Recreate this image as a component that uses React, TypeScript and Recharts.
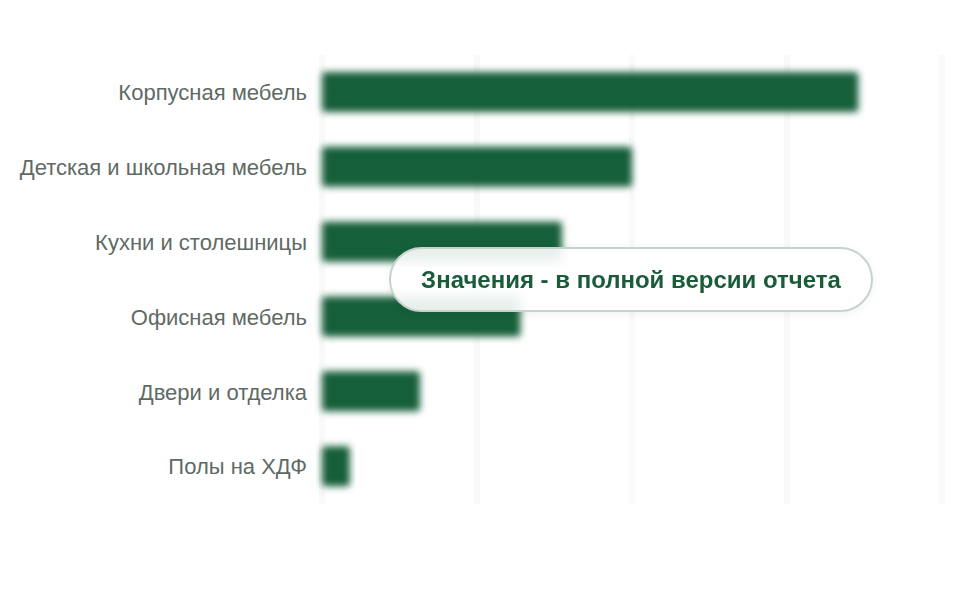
import { BarChart, Bar, XAxis, YAxis, CartesianGrid } from 'recharts';

const categories = [
  'Корпусная мебель',
  'Детская и школьная мебель',
  'Кухни и столешницы',
  'Офисная мебель',
  'Двери и отделка',
  'Полы на ХДФ',
];
const values = [86.5, 50, 38.7, 32, 15.8, 4.5];
const xTicks = [0, 25, 50, 75, 100];

const BAR_COLOR = '#175e3a';

const data = categories.map((name, i) => ({ name, value: values[i] }));

// blurred bar — the values are hidden in the preview version
const BlurBar = (props: any) => {
  const { x, y, width, height } = props;
  if (!width || width <= 0) return null;
  return <rect x={x} y={y} width={width} height={height} rx={3} fill={BAR_COLOR} filter="url(#barBlur)" />;
};

export default function App() {
  return (
    <div style={{ position: 'relative', width: 960, height: 600, background: '#fff', fontFamily: '"Liberation Sans", Arial, sans-serif' }}>
      <style>{'body{margin:0}'}</style>
      <BarChart
        width={960}
        height={600}
        data={data}
        layout="vertical"
        margin={{ top: 55, right: 18, bottom: 96, left: 0 }}
        barSize={40}
      >
        <defs>
          <filter id="barBlur" x="-20%" y="-40%" width="140%" height="180%">
            <feGaussianBlur stdDeviation="3.5" />
          </filter>
        </defs>
        <CartesianGrid horizontal={false} stroke="#f9f9f9" strokeWidth={6} />
        <XAxis type="number" domain={[0, 100]} ticks={xTicks} hide />
        <YAxis
          type="category"
          dataKey="name"
          width={322}
          axisLine={false}
          tickLine={false}
          tickMargin={9}
          tick={{ fontSize: 22, fill: '#5f6a65', fontFamily: '"Liberation Sans", Arial, sans-serif' }}
        />
        <Bar dataKey="value" fill={BAR_COLOR} shape={BlurBar} isAnimationActive={false} />
      </BarChart>
      <div
        style={{
          position: 'absolute',
          left: 389,
          top: 247,
          width: 484,
          height: 65,
          boxSizing: 'border-box',
          borderRadius: 33,
          border: '2px solid #c6d3cb',
          background: 'rgba(255,255,255,0.9)',
          backdropFilter: 'blur(4px)',
          boxShadow: '0 2px 8px rgba(0,0,0,0.06)',
          display: 'flex',
          alignItems: 'center',
          justifyContent: 'center',
          fontSize: 24,
          fontWeight: 700,
          color: '#1a5c3a',
        }}
      >
        Значения - в полной версии отчета
      </div>
    </div>
  );
}
